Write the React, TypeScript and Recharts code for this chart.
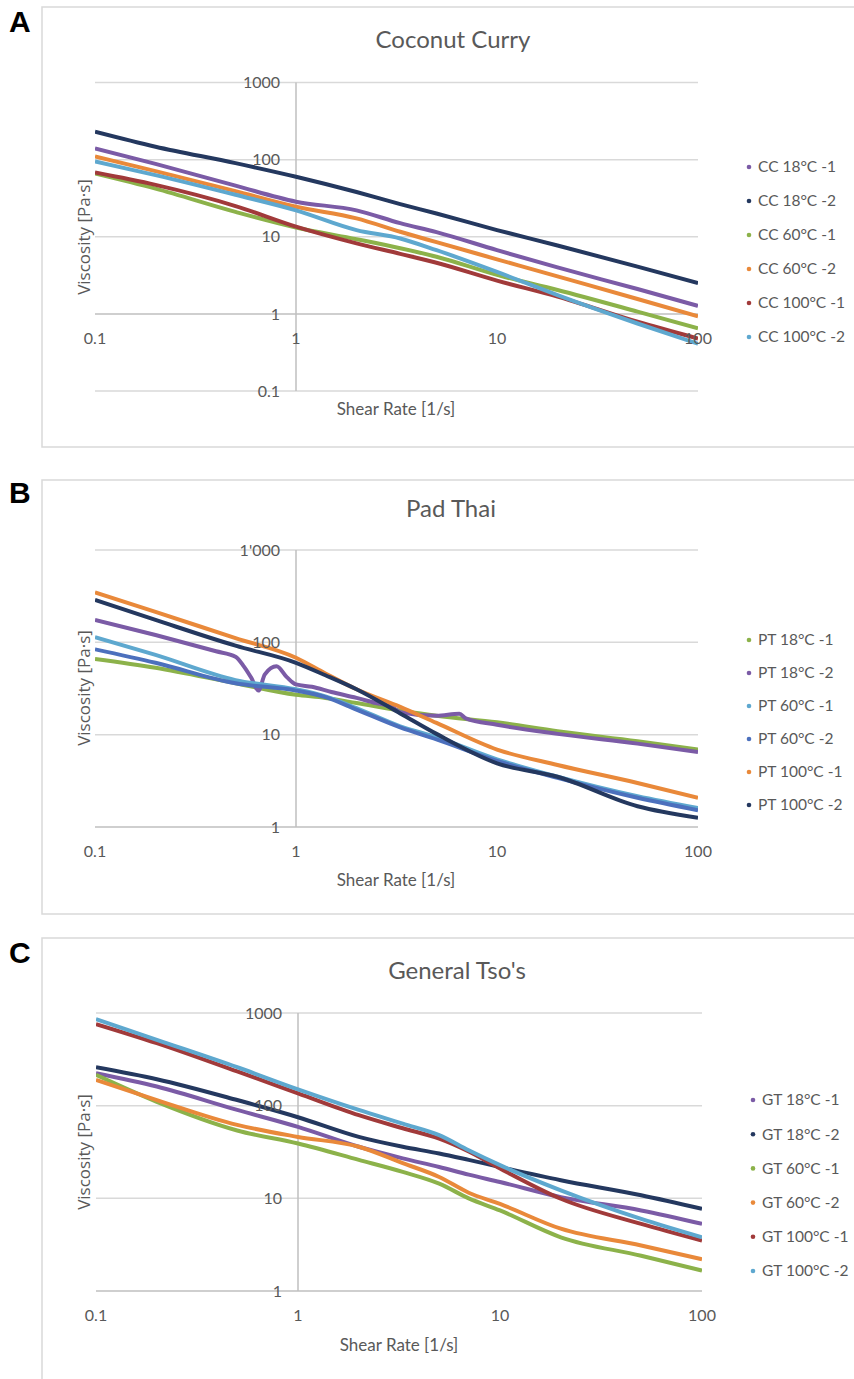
import React from 'react';
import { LineChart, Line, XAxis, YAxis, ReferenceLine, ReferenceDot } from 'recharts';

// shear rates [1/s] where values were read
const RATE_A = [0.1, 0.2, 0.5, 1, 2, 3.3, 5, 10, 20, 50, 100];
const RATE_B = [0.1, 0.2, 0.5, 1, 1.4, 2, 3.3, 5, 10, 20, 50, 100];
const RATE_B_PT18_2 = [0.1, 0.2, 0.4, 0.5, 0.55, 0.6, 0.65, 0.7, 0.8, 0.9, 1, 1.2, 1.5, 2, 2.5, 3, 3.3, 5, 6.5, 7, 10, 20, 50, 100];
const RATE_C = [0.1, 0.2, 0.5, 1, 2, 3.3, 5, 7, 10, 20, 50, 100];

// Coconut Curry viscosity [Pa·s]
const CC18_1 = [140, 88, 46, 28.5, 22, 15, 11.5, 6.7, 4.0, 2.1, 1.27];
const CC18_2 = [230, 147, 90, 60, 38, 26.5, 20, 12.2, 7.7, 4.1, 2.5];
const CC60_1 = [66, 42, 21, 13.2, 9.3, 7.1, 5.5, 3.2, 2.04, 1.07, 0.65];
const CC60_2 = [110, 71, 39, 24.5, 17.3, 11.6, 8.5, 5.1, 3.06, 1.56, 0.93];
const CC100_1 = [68, 47, 25, 13.5, 8.2, 6.0, 4.6, 2.7, 1.67, 0.79, 0.48];
const CC100_2 = [95, 63, 35, 22, 12.2, 9.5, 6.7, 3.5, 1.75, 0.75, 0.41];

// Pad Thai
const PT18_1 = [66, 53, 36, 27, 25, 22, 18.3, 16, 13.6, 10.9, 8.5, 6.9];
const PT18_2 = [175, 120, 80, 70, 55, 41, 30, 45, 55, 42, 35, 33, 29, 25, 22, 20, 17.5, 16, 16.8, 15, 12.8, 10.2, 8.0, 6.5];
const PT60_1 = [114, 73, 39, 31, 26, 19.4, 12.3, 9.4, 5.4, 3.5, 2.15, 1.6];
const PT60_2 = [84, 60, 36, 30, 25.5, 18.7, 12, 8.9, 5.2, 3.4, 2.07, 1.52];
const PT100_1 = [348, 214, 111, 68, 46, 31, 20, 13.4, 6.9, 4.7, 3.0, 2.07];
const PT100_2 = [288, 175, 92, 60, 44, 31, 17, 10.2, 4.9, 3.5, 1.68, 1.26];

// General Tso's
const GT18_1 = [224, 161, 90, 59, 36, 27, 21.8, 18, 15, 10.3, 7.4, 5.3];
const GT18_2 = [260, 193, 115, 75, 46, 36, 30.5, 26, 21.8, 15.7, 10.8, 7.7];
const GT60_1 = [215, 110, 54, 39, 26, 19.3, 14.4, 10, 7.4, 3.8, 2.4, 1.66];
const GT60_2 = [190, 115, 62, 46, 36, 24, 17, 11.5, 8.7, 4.7, 3.1, 2.2];
const GT100_1 = [760, 473, 234, 136, 79, 57, 44, 32, 21, 9.9, 5.3, 3.5];
const GT100_2 = [861, 514, 260, 150, 90, 64, 48, 33, 22.8, 12.2, 6.0, 3.8];

const X_TICKS = [0.1, 1, 10, 100];
const Y_TICKS_A = [0.1, 1, 10, 100, 1000];
const Y_TICKS_BC = [1, 10, 100, 1000];
const Y_LABELS_A = ['0.1', '1', '10', '100', '1000'];
const Y_LABELS_B = ['1', '10', '100', "1'000"];
const Y_LABELS_C = ['1', '10', '100', '1000'];

const PURPLE = '#7b5ba6';
const NAVY = '#24385f';
const GREEN = '#8cb24a';
const ORANGE = '#e9893a';
const RED = '#a13a3a';
const LBLUE = '#5ea8cf';
const BLUE = '#4c70bd';

const TEXT = '#595959';
const GRID = '#d9d9d9';
const AXIS = '#bfbfbf';
const FONT = 'Lato, "Open Sans", sans-serif';

const pts = (xs: number[], ys: number[]) => xs.map((x, i) => ({ x, y: ys[i] }));

const seriesA = [
  { name: 'CC 18°C -1', color: PURPLE, data: pts(RATE_A, CC18_1) },
  { name: 'CC 18°C -2', color: NAVY, data: pts(RATE_A, CC18_2) },
  { name: 'CC 60°C -1', color: GREEN, data: pts(RATE_A, CC60_1) },
  { name: 'CC 60°C -2', color: ORANGE, data: pts(RATE_A, CC60_2) },
  { name: 'CC 100°C -1', color: RED, data: pts(RATE_A, CC100_1) },
  { name: 'CC 100°C -2', color: LBLUE, data: pts(RATE_A, CC100_2) },
];
const seriesB = [
  { name: 'PT 18°C -1', color: GREEN, data: pts(RATE_B, PT18_1) },
  { name: 'PT 18°C -2', color: PURPLE, data: pts(RATE_B_PT18_2, PT18_2) },
  { name: 'PT 60°C -1', color: LBLUE, data: pts(RATE_B, PT60_1) },
  { name: 'PT 60°C -2', color: BLUE, data: pts(RATE_B, PT60_2) },
  { name: 'PT 100°C -1', color: ORANGE, data: pts(RATE_B, PT100_1) },
  { name: 'PT 100°C -2', color: NAVY, data: pts(RATE_B, PT100_2) },
];
const seriesC = [
  { name: 'GT 18°C -1', color: PURPLE, data: pts(RATE_C, GT18_1) },
  { name: 'GT 18°C -2', color: NAVY, data: pts(RATE_C, GT18_2) },
  { name: 'GT 60°C -1', color: GREEN, data: pts(RATE_C, GT60_1) },
  { name: 'GT 60°C -2', color: ORANGE, data: pts(RATE_C, GT60_2) },
  { name: 'GT 100°C -1', color: RED, data: pts(RATE_C, GT100_1) },
  { name: 'GT 100°C -2', color: LBLUE, data: pts(RATE_C, GT100_2) },
];

type Series = { name: string; color: string; data: { x: number; y: number }[] };

function PanelChart(props: {
  top: number; height: number; plotLeft: number; plotRight: number;
  plotTop: number; plotBottom: number; yMin: number;
  yTicks: number[]; yLabels: string[]; series: Series[];
}) {
  const { top, height, plotLeft, plotRight, plotTop, plotBottom, yMin, yTicks, yLabels, series } = props;
  const labelStyle = { fill: TEXT, fontSize: 16, fontFamily: FONT };
  return (
    <div style={{ position: 'absolute', left: 0, top, width: 854, height }}>
      <LineChart
        width={854}
        height={height}
        margin={{ top: plotTop - top, bottom: top + height - plotBottom, left: plotLeft, right: 854 - plotRight }}
      >
        <XAxis type="number" dataKey="x" scale="log" domain={[0.1, 100]} allowDataOverflow hide />
        <YAxis type="number" dataKey="y" scale="log" domain={[yMin, 1000]} allowDataOverflow hide />
        {yTicks.map(v => (
          <ReferenceLine key={'g' + v} y={v} stroke={v === 1 ? AXIS : GRID} strokeWidth={1.5} ifOverflow="visible" />
        ))}
        <ReferenceLine x={1} stroke={AXIS} strokeWidth={1.5} ifOverflow="visible" />
        {series.map(s => (
          <Line
            key={s.name}
            name={s.name}
            data={s.data}
            dataKey="y"
            type="monotone"
            stroke={s.color}
            strokeWidth={4}
            dot={false}
            isAnimationActive={false}
          />
        ))}
        {yTicks.map((v, i) => (
          <ReferenceDot
            key={'yl' + v}
            x={1}
            y={v}
            r={0}
            ifOverflow="visible"
            label={{ value: yLabels[i], position: 'left', offset: 16, ...labelStyle }}
          />
        ))}
        {X_TICKS.map(v => (
          <ReferenceDot
            key={'xl' + v}
            x={v}
            y={1}
            r={0}
            ifOverflow="visible"
            label={{ value: String(v), position: 'bottom', offset: 18.5, ...labelStyle }}
          />
        ))}
      </LineChart>
    </div>
  );
}

function Decor(props: {
  frameTop: number; frameHeight: number; letter: string; letterY: number;
  title: string; titleX: number; titleY: number; xTitleX: number; xTitleY: number;
  yTitleY: number; legendX: number; legendY: number; legendStep: number; series: Series[];
}) {
  const p = props;
  return (
    <g>
      <rect x={42} y={p.frameTop} width={840} height={p.frameHeight} fill="none" stroke={GRID} strokeWidth={1.5} />
      <text x={9} y={p.letterY} fontFamily='"Liberation Sans", Arial, sans-serif' fontWeight="bold" fontSize={30} fill="#000">{p.letter}</text>
      <text x={p.titleX} y={p.titleY} textAnchor="middle" fontFamily={FONT} fontSize={24} fill={TEXT}>{p.title}</text>
      <text x={p.xTitleX} y={p.xTitleY} textAnchor="middle" fontFamily={FONT} fontSize={17} fill={TEXT}>Shear Rate [1/s]</text>
      <text
        transform={`translate(83, ${p.yTitleY}) rotate(-90)`}
        textAnchor="middle"
        dominantBaseline="central"
        fontFamily='"Open Sans", sans-serif'
        fontSize={17}
        fill={TEXT}
      >
        Viscosity [Pa·s]
      </text>
      {p.series.map((s, i) => (
        <g key={s.name}>
          <circle cx={p.legendX} cy={p.legendY + i * p.legendStep} r={2.3} fill={s.color} />
          <text x={p.legendX + 9} y={p.legendY + i * p.legendStep + 5.4} fontFamily={FONT} fontSize={15.5} fill={TEXT}>{s.name}</text>
        </g>
      ))}
    </g>
  );
}

export default function App() {
  return (
    <div style={{ position: 'absolute', left: 0, top: 0, width: 854, height: 1379, overflow: 'hidden', background: '#fff' }}>
      <svg width={854} height={1379} style={{ position: 'absolute', left: 0, top: 0 }}>
        <Decor frameTop={7} frameHeight={440} letter="A" letterY={32} title="Coconut Curry" titleX={453} titleY={48}
          xTitleX={396} xTitleY={415} yTitleY={237} legendX={749} legendY={167} legendStep={34} series={seriesA} />
        <Decor frameTop={480} frameHeight={434} letter="B" letterY={503} title="Pad Thai" titleX={451} titleY={517}
          xTitleX={396} xTitleY={886} yTitleY={688} legendX={749} legendY={640} legendStep={33} series={seriesB} />
        <Decor frameTop={938} frameHeight={470} letter="C" letterY={963} title="General Tso's" titleX={457} titleY={979}
          xTitleX={399} xTitleY={1351} yTitleY={1152} legendX={753} legendY={1100} legendStep={34.2} series={seriesC} />
      </svg>
      <PanelChart top={7} height={440} plotLeft={95} plotRight={698} plotTop={82.5} plotBottom={391}
        yMin={0.1} yTicks={Y_TICKS_A} yLabels={Y_LABELS_A} series={seriesA} />
      <PanelChart top={480} height={434} plotLeft={95} plotRight={698} plotTop={550} plotBottom={827}
        yMin={1} yTicks={Y_TICKS_BC} yLabels={Y_LABELS_B} series={seriesB} />
      <PanelChart top={938} height={441} plotLeft={96} plotRight={702} plotTop={1013} plotBottom={1291}
        yMin={1} yTicks={Y_TICKS_BC} yLabels={Y_LABELS_C} series={seriesC} />
    </div>
  );
}
